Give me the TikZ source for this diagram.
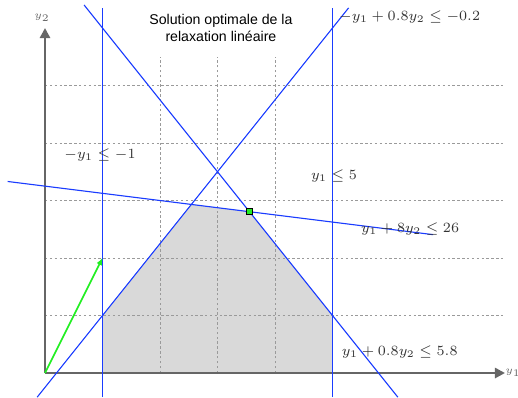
\documentclass[tikz,border=0pt]{standalone}
\usepackage{fontspec}
\newfontfamily\titlefont{Liberation Sans}
\usetikzlibrary{arrows.meta}
\definecolor{axisgray}{HTML}{666666}
\definecolor{gridgray}{HTML}{9A9A9A}
\definecolor{regiongray}{HTML}{D9D9D9}
\definecolor{labelgray}{HTML}{333333}
\definecolor{lineblue}{HTML}{1A3CFF}
\definecolor{arrowgreen}{HTML}{22EE22}
\begin{document}
\begin{tikzpicture}[x=1cm,y=1cm,
  constraint/.style={lineblue, line width=0.55pt},
  gridline/.style={gridgray, dashed, dash pattern=on 1.2pt off 1.2pt, line width=0.4pt},
  axisline/.style={axisgray, line width=1.3pt, -{Triangle[length=5pt,width=5pt]}},
  lbl/.style={text=labelgray, inner sep=0pt, font=\fontsize{6.85}{8}\selectfont},
  axlbl/.style={text=axisgray, inner sep=0pt, font=\fontsize{5.5}{6}\selectfont},
  titlelbl/.style={align=center, inner sep=0pt, font=\titlefont\fontsize{7}{8.4}\selectfont}]
\useasboundingbox (-0.7826,-0.4174) rectangle (8.226,6.487);
% feasible region
\fill[regiongray] (1,0) -- (5,0) -- (5,1) -- (3.556,2.806) -- (2.545,2.932) -- (1,1) -- cycle;
% grid
\foreach \x in {1,...,5} \draw[gridline] (\x,0) -- (\x,5.5);
\foreach \y in {1,...,5} \draw[gridline] (0,\y) -- (8,\y);
% axes
\coordinate (O) at (0,0);
\coordinate (X) at (8,0);
\coordinate (Y) at (0,6);
\draw[axisline] (O) -- (X);
\draw[axisline] (O) -- (Y);
\node[axlbl] (ly1) at (8.14,0) {$y_1$};
\node[axlbl] (ly2) at (-0.05,6.17) {$y_2$};
% constraints
\coordinate (a1) at (1,-0.42); \coordinate (a2) at (1,6.35);
\coordinate (b1) at (5,-0.42); \coordinate (b2) at (5,6.35);
\coordinate (c1) at (-0.136,-0.42); \coordinate (c2) at (5.28,6.35);
\coordinate (d1) at (0.68,6.4); \coordinate (d2) at (6.136,-0.42);
\coordinate (e1) at (-0.65,3.331); \coordinate (e2) at (6.75,2.406);
\draw[constraint] (a1) -- (a2);
\draw[constraint] (b1) -- (b2);
\draw[constraint] (c1) -- (c2);
\draw[constraint] (d1) -- (d2);
\draw[constraint] (e1) -- (e2);
% objective direction
\coordinate (G) at (1,2);
\draw[arrowgreen, line width=0.8pt, -{Latex[length=3.5pt,width=3pt]}] (O) -- (G);
% optimum
\node[draw=black, fill=arrowgreen, line width=0.4pt, minimum size=3pt, inner sep=0pt] (opt) at (3.556,2.806) {};
% labels
\node[titlelbl] (title) at (3.06,6.0) {Solution optimale de la\\relaxation linéaire};
\node[lbl, anchor=west] (l1) at (5.11,6.19) {$-y_1+0.8y_2\le-0.2$};
\node[lbl] (l2) at (0.957,3.79) {$-y_1\le-1$};
\node[lbl] (l3) at (5.026,3.43) {$y_1\le5$};
\node[lbl] (l4) at (6.35,2.50) {$y_1+8y_2\le26$};
\node[lbl] (l5) at (6.17,0.365) {$y_1+0.8y_2\le5.8$};
\end{tikzpicture}
\end{document}
